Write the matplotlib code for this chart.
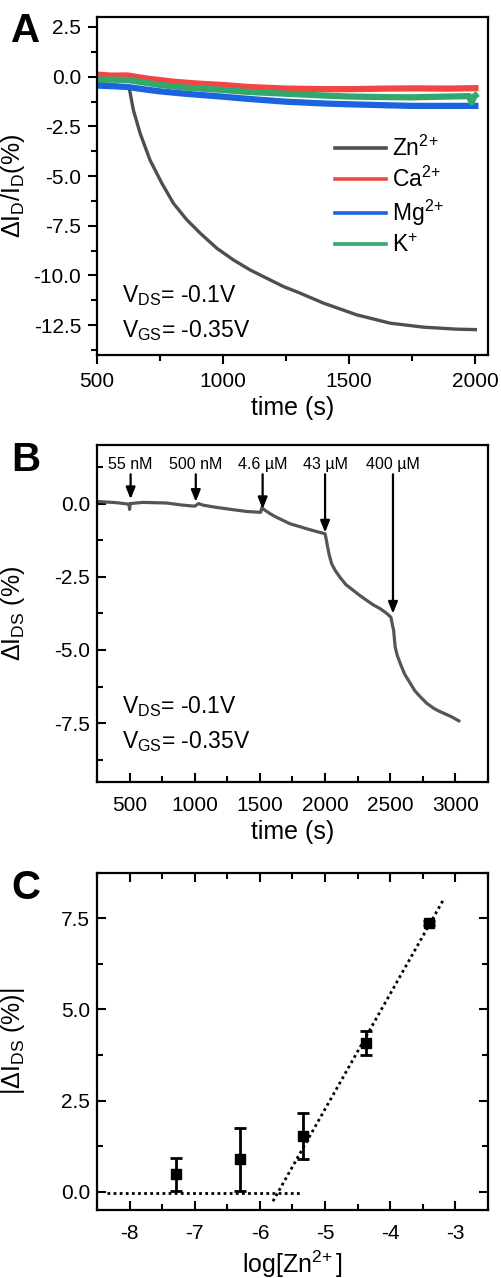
import numpy as np
import matplotlib
matplotlib.use('Agg')
import matplotlib.pyplot as plt
from matplotlib.ticker import MultipleLocator

plt.rcParams['font.family'] = ['Liberation Sans', 'DejaVu Sans']
plt.rcParams['mathtext.fontset'] = 'custom'
plt.rcParams['mathtext.rm'] = 'Liberation Sans'
plt.rcParams['mathtext.it'] = 'Liberation Sans:italic'
plt.rcParams['mathtext.default'] = 'regular'
plt.rcParams['axes.unicode_minus'] = False

# ---- panel A : selectivity traces
zn_t = [500, 560, 610, 628, 644, 671, 710, 757, 803, 856, 909, 975, 1041, 1107, 1173, 1240, 1300,
        1398, 1530, 1663, 1795, 1927, 2000]
zn_v = [-0.35, -0.4, -0.5, -0.58, -1.67, -2.85, -4.19, -5.36, -6.37, -7.2, -7.87, -8.63, -9.22, -9.72,
        -10.14, -10.56, -10.86, -11.39, -11.98, -12.4, -12.6, -12.7, -12.72]
ca_t = [500, 560, 620, 700, 800, 900, 1000, 1100, 1250, 1400, 1500, 1650, 1750, 1900, 2000]
ca_v = [0.1, 0.05, 0.06, -0.1, -0.25, -0.35, -0.42, -0.52, -0.6, -0.63, -0.63, -0.6, -0.59, -0.6, -0.58]
mg_t = [500, 560, 620, 700, 750, 850, 1000, 1100, 1250, 1400, 1500, 1650, 1750, 1900, 2000]
mg_v = [-0.45, -0.48, -0.52, -0.66, -0.74, -0.86, -1.01, -1.12, -1.26, -1.35, -1.39, -1.44, -1.47, -1.47, -1.47]
k_t = [500, 560, 620, 700, 750, 850, 1000, 1100, 1250, 1400, 1500, 1650, 1750, 1900, 1975, 1985, 1995, 2000]
k_v = [-0.15, -0.15, -0.17, -0.32, -0.42, -0.55, -0.67, -0.77, -0.86, -0.95, -1.0, -1.03, -1.04, -1.0,
       -0.98, -1.3, -1.0, -0.95]

# ---- panel B : stepwise addition trace
b_t = [256, 400, 495, 500, 505, 600, 782, 900, 1000, 1030, 1060, 1150, 1295, 1400, 1505, 1515, 1530,
       1580, 1628, 1680, 1731, 1800, 1859, 1930, 2000, 2008, 2018, 2030, 2051, 2080, 2115, 2160, 2218,
       2270, 2321, 2370, 2423, 2470, 2505, 2515, 2526, 2538, 2555, 2577, 2610, 2654, 2690, 2731, 2780,
       2833, 2870, 2910, 2970, 3026]
b_v = [0.07, 0.03, -0.02, -0.2, 0.0, 0.04, 0.02, -0.05, -0.09, 0.0, -0.05, -0.12, -0.21, -0.27, -0.3,
       -0.14, -0.2, -0.35, -0.47, -0.58, -0.69, -0.78, -0.86, -0.95, -1.03, -1.2, -1.44, -1.72, -2.06,
       -2.3, -2.52, -2.77, -2.97, -3.15, -3.31, -3.46, -3.59, -3.74, -3.88, -4.1, -4.33, -4.9, -5.2,
       -5.46, -5.82, -6.14, -6.4, -6.6, -6.82, -6.99, -7.08, -7.16, -7.28, -7.42]
add_t = [508, 1008, 1521, 2000, 2521]
add_tip = [0.15, 0.06, -0.19, -0.99, -3.76]
add_lbl = ['55 nM', '500 nM', '4.6 µM', '43 µM', '400 µM']

# ---- panel C : calibration
logc = [-7.28, -6.31, -5.34, -4.37, -3.40]
dI = [0.48, 0.89, 1.53, 4.08, 7.37]
dI_err = [0.45, 0.86, 0.64, 0.32, 0.05]
base_x = [-8.35, -5.36]
base_y = [-0.03, -0.03]
fit_x = [-5.80, -3.19]
fit_y = [-0.26, 7.99]

fig = plt.figure(figsize=(5.01, 12.78), dpi=100)
L, W = 0.1936, 0.7804
axA = fig.add_axes([L, 0.7222, W, 0.2645])
axB = fig.add_axes([L, 0.3883, W, 0.2635])
axC = fig.add_axes([L, 0.0532, W, 0.2639])

tfs = 15
lfs = 18
sup2 = '$^{2\\!+}$'

def style(ax, direction, mirror=False, xpad=5):
    for s in ax.spines.values():
        s.set_linewidth(1.6)
    ax.tick_params(which='both', direction=direction, labelsize=tfs, width=1.5,
                   top=mirror, right=mirror)
    ax.tick_params(axis='x', which='both', pad=xpad)
    ax.tick_params(axis='y', which='both', pad=5)
    ax.tick_params(which='major', length=6.5)
    ax.tick_params(which='minor', length=4)
    ax.yaxis.set_label_coords(-0.178, 0.5)

# A
axA.plot(zn_t, zn_v, color='#4f4f4f', lw=2.4, label='Zn' + sup2)
axA.plot(ca_t, ca_v, color='#f24646', lw=4.5, label='Ca' + sup2)
axA.plot(mg_t, mg_v, color='#1b63df', lw=4.5, label='Mg' + sup2)
axA.plot(k_t, k_v, color='#33a86b', lw=4.5, label='K$^{+}$')
axA.set_xlim(500, 2050)
axA.set_ylim(-14, 3)
axA.xaxis.set_major_locator(MultipleLocator(500))
axA.xaxis.set_minor_locator(MultipleLocator(250))
axA.yaxis.set_major_locator(MultipleLocator(2.5))
axA.yaxis.set_minor_locator(MultipleLocator(1.25))
style(axA, 'out', xpad=6)
axA.set_xlabel('time (s)', fontsize=lfs, labelpad=3)
axA.set_ylabel('ΔI$_D$/I$_D$(%)', fontsize=lfs)
leg = axA.legend(loc='upper left', bbox_to_anchor=(0.585, 0.675), frameon=False, fontsize=16.5,
                 handlelength=2.25, labelspacing=0.25, handletextpad=0.25, borderaxespad=0)
for h in leg.legend_handles:
    h.set_linewidth(2.6)
axA.text(0.064, 0.158, 'V$_{DS}$= -0.1V', transform=axA.transAxes, fontsize=16.5, va='baseline')
axA.text(0.064, 0.054, 'V$_{GS}$= -0.35V', transform=axA.transAxes, fontsize=16.5, va='baseline')

# B
axB.plot(b_t, b_v, color='#555555', lw=2.3)
for t, tip, lb in zip(add_t, add_tip, add_lbl):
    axB.annotate('', xy=(t, tip), xytext=(t, 1.0),
                 arrowprops=dict(arrowstyle='-|>,head_width=0.28,head_length=0.7', color='black',
                                 lw=1.6, shrinkA=0, shrinkB=0))
    axB.text(t, 1.34, lb, ha='center', va='center', fontsize=11.5)
axB.set_xlim(250, 3250)
axB.set_ylim(-9.5, 2)
axB.xaxis.set_major_locator(MultipleLocator(500))
axB.xaxis.set_minor_locator(MultipleLocator(250))
axB.yaxis.set_major_locator(MultipleLocator(2.5))
axB.yaxis.set_minor_locator(MultipleLocator(1.25))
style(axB, 'in', xpad=10)
axB.set_xticks([500, 1000, 1500, 2000, 2500, 3000])
axB.set_xlabel('time (s)', fontsize=lfs, labelpad=4)
axB.set_ylabel('ΔI$_{DS}$ (%)', fontsize=lfs)
axB.text(0.063, 0.203, 'V$_{DS}$= -0.1V', transform=axB.transAxes, fontsize=16.5, va='baseline')
axB.text(0.063, 0.099, 'V$_{GS}$= -0.35V', transform=axB.transAxes, fontsize=16.5, va='baseline')

# C
axC.plot(base_x, base_y, color='black', ls=(0, (1, 1.2)), lw=2)
axC.plot(fit_x, fit_y, color='black', ls=(0, (1, 1.2)), lw=2)
axC.errorbar(logc, dI, yerr=dI_err, fmt='s', color='black', ms=7.5, elinewidth=2,
             capsize=4.5, capthick=2)
axC.set_xlim(-8.5, -2.5)
axC.set_ylim(-0.5, 8.75)
axC.xaxis.set_major_locator(MultipleLocator(1))
axC.xaxis.set_minor_locator(MultipleLocator(0.5))
axC.yaxis.set_major_locator(MultipleLocator(2.5))
axC.yaxis.set_minor_locator(MultipleLocator(1.25))
style(axC, 'in', mirror=True, xpad=10)
axC.set_xticks([-8, -7, -6, -5, -4, -3])
axC.set_xlabel('log[Zn' + sup2 + ']', fontsize=lfs, labelpad=4)
axC.set_ylabel('|ΔI$_{DS}$ (%)|', fontsize=lfs)

for lab, y in zip(['A', 'B', 'C'], [0.976, 0.640, 0.305]):
    fig.text(0.022, y, lab, fontsize=29, fontweight='bold', va='center', ha='left')

fig.savefig('out.png', dpi=100)
